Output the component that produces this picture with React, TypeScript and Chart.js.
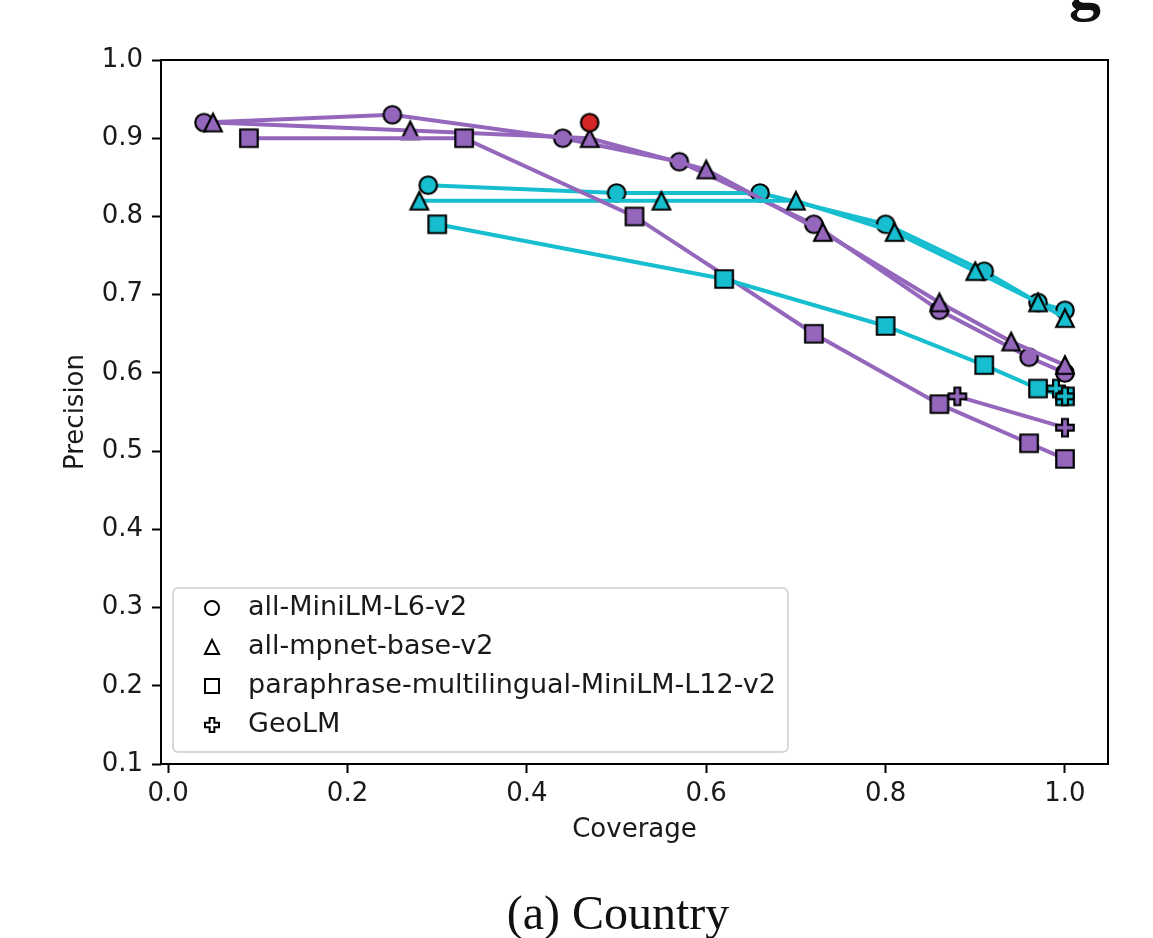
import React, { useEffect, useRef } from 'react';
import { Chart, registerables } from 'chart.js';

Chart.register(...registerables);

// ---------- data ----------
const purpleColor = '#9467bd';
const cyanColor = '#17becf';
const redColor = '#d62728';

// all-MiniLM-L6-v2
const miniPurpleX = [0.04, 0.25, 0.44, 0.57, 0.72, 0.86, 0.96, 1.0];
const miniPurpleY = [0.92, 0.93, 0.90, 0.87, 0.79, 0.68, 0.62, 0.60];
const miniCyanX = [0.29, 0.50, 0.66, 0.80, 0.91, 0.97, 1.0];
const miniCyanY = [0.84, 0.83, 0.83, 0.79, 0.73, 0.69, 0.68];
// all-mpnet-base-v2
const mpnetPurpleX = [0.05, 0.27, 0.47, 0.60, 0.73, 0.86, 0.94, 1.0];
const mpnetPurpleY = [0.92, 0.91, 0.90, 0.86, 0.78, 0.69, 0.64, 0.61];
const mpnetCyanX = [0.28, 0.55, 0.70, 0.81, 0.90, 0.97, 1.0];
const mpnetCyanY = [0.82, 0.82, 0.82, 0.78, 0.73, 0.69, 0.67];
// paraphrase-multilingual-MiniLM-L12-v2
const paraPurpleX = [0.09, 0.33, 0.52, 0.72, 0.86, 0.96, 1.0];
const paraPurpleY = [0.90, 0.90, 0.80, 0.65, 0.56, 0.51, 0.49];
const paraCyanX = [0.30, 0.62, 0.80, 0.91, 0.97, 1.0];
const paraCyanY = [0.79, 0.72, 0.66, 0.61, 0.58, 0.57];
// GeoLM
const geoPurpleX = [0.88, 1.0];
const geoPurpleY = [0.57, 0.53];
const geoCyanX = [0.99, 1.0];
const geoCyanY = [0.58, 0.57];
// highlighted point
const bestX = [0.47];
const bestY = [0.92];

const legendLabels = [
  'all-MiniLM-L6-v2',
  'all-mpnet-base-v2',
  'paraphrase-multilingual-MiniLM-L12-v2',
  'GeoLM',
];
const legendShapes = ['circle', 'triangle', 'square', 'plus'];

const xTicks = [0.0, 0.2, 0.4, 0.6, 0.8, 1.0];
const yTicks = [0.1, 0.2, 0.3, 0.4, 0.5, 0.6, 0.7, 0.8, 0.9, 1.0];
const xAxisTitle = 'Coverage';
const yAxisTitle = 'Precision';
const captionText = '(a) Country';
const topCutText = 'g';

// ---------- styling ----------
const FONT = '"DejaVu Sans", sans-serif';
const FONT_SIZE = 26;
const LEGEND_FONT_SIZE = 27;
const MARKER = 17.5;
const EDGE = 2.2;
const LINE_W = 4;

function tracePath(ctx: CanvasRenderingContext2D, shape: string, cx: number, cy: number, s: number) {
  const h = s / 2;
  ctx.beginPath();
  if (shape === 'circle') {
    ctx.arc(cx, cy, h, 0, Math.PI * 2);
  } else if (shape === 'square') {
    ctx.rect(cx - h, cy - h, s, s);
  } else if (shape === 'triangle') {
    ctx.moveTo(cx, cy - h);
    ctx.lineTo(cx + h, cy + h);
    ctx.lineTo(cx - h, cy + h);
    ctx.closePath();
  } else {
    const a = s / 6;
    const pts = [[-1, -3], [1, -3], [1, -1], [3, -1], [3, 1], [1, 1], [1, 3], [-1, 3], [-1, 1], [-3, 1], [-3, -1], [-1, -1]];
    pts.forEach(([px, py], i) => {
      const X = cx + px * a;
      const Y = cy + py * a;
      if (i === 0) ctx.moveTo(X, Y);
      else ctx.lineTo(X, Y);
    });
    ctx.closePath();
  }
}

function makeMarker(shape: string, fill: string, size: number, edge: number) {
  const W = Math.ceil(size + edge * 2 + 4);
  const c = document.createElement('canvas');
  c.width = W;
  c.height = W;
  const ctx = c.getContext('2d')!;
  tracePath(ctx, shape, W / 2, W / 2, size);
  ctx.fillStyle = fill;
  ctx.fill();
  ctx.lineWidth = edge;
  ctx.strokeStyle = '#000';
  ctx.lineJoin = 'miter';
  ctx.stroke();
  return c;
}

function series(label: string, xs: number[], ys: number[], shape: string, color: string, showLine = true) {
  return {
    label,
    data: xs.map((x, i) => ({ x, y: ys[i] })),
    borderColor: color,
    backgroundColor: color,
    borderWidth: LINE_W,
    pointStyle: makeMarker(shape, color, MARKER, EDGE),
    pointRadius: 10,
    pointHoverRadius: 10,
    showLine,
    fill: false,
    tension: 0,
  };
}

const spinesPlugin = {
  id: 'spines',
  afterDatasetsDraw(chart: any) {
    const { ctx, chartArea: a } = chart;
    ctx.save();
    ctx.strokeStyle = '#000';
    ctx.lineWidth = 2;
    ctx.strokeRect(a.left, a.top, a.right - a.left, a.bottom - a.top);
    ctx.restore();
  },
};

const legendPlugin = {
  id: 'customLegend',
  afterDraw(chart: any) {
    const { ctx, chartArea: a } = chart;
    ctx.save();
    ctx.font = `${LEGEND_FONT_SIZE}px ${FONT}`;
    const maxW = Math.max(...legendLabels.map((t) => ctx.measureText(t).width));
    const bx = a.left + 12;
    const rowGap = 39;
    const bh = rowGap * legendLabels.length + 8;
    const by = a.bottom - 12 - bh;
    const textX = bx + 75;
    const bw = textX - bx + maxW + 12;
    const r = 5;
    ctx.beginPath();
    ctx.moveTo(bx + r, by);
    ctx.lineTo(bx + bw - r, by);
    ctx.arcTo(bx + bw, by, bx + bw, by + r, r);
    ctx.lineTo(bx + bw, by + bh - r);
    ctx.arcTo(bx + bw, by + bh, bx + bw - r, by + bh, r);
    ctx.lineTo(bx + r, by + bh);
    ctx.arcTo(bx, by + bh, bx, by + bh - r, r);
    ctx.lineTo(bx, by + r);
    ctx.arcTo(bx, by, bx + r, by, r);
    ctx.closePath();
    ctx.fillStyle = 'rgba(255,255,255,0.8)';
    ctx.fill();
    ctx.strokeStyle = '#cccccc';
    ctx.lineWidth = 1.5;
    ctx.stroke();

    legendLabels.forEach((label, i) => {
      const cy = by + 20 + i * rowGap;
      tracePath(ctx, legendShapes[i], bx + 39, cy, 14);
      ctx.fillStyle = '#fff';
      ctx.fill();
      ctx.strokeStyle = '#000';
      ctx.lineWidth = 2;
      ctx.stroke();
      ctx.fillStyle = '#1a1a1a';
      ctx.textAlign = 'left';
      ctx.textBaseline = 'middle';
      ctx.fillText(label, textX, cy);
    });
    ctx.restore();
  },
};

const captionPlugin = {
  id: 'caption',
  afterDraw(chart: any) {
    const { ctx } = chart;
    ctx.save();
    ctx.fillStyle = '#111';
    ctx.textAlign = 'center';
    ctx.textBaseline = 'alphabetic';
    ctx.font = '48px "Liberation Serif", serif';
    ctx.fillText(captionText, 618, 929);
    ctx.font = 'bold 64px "Liberation Serif", serif';
    ctx.fillText(topCutText, 1085, 8);
    ctx.restore();
  },
};

export default function App() {
  const ref = useRef<HTMLCanvasElement | null>(null);

  useEffect(() => {
    if (!ref.current) return;
    const datasets = [
      series('all-MiniLM-L6-v2', miniPurpleX, miniPurpleY, 'circle', purpleColor),
      series('all-MiniLM-L6-v2 (b)', miniCyanX, miniCyanY, 'circle', cyanColor),
      series('all-mpnet-base-v2', mpnetPurpleX, mpnetPurpleY, 'triangle', purpleColor),
      series('all-mpnet-base-v2 (b)', mpnetCyanX, mpnetCyanY, 'triangle', cyanColor),
      series('paraphrase-multilingual-MiniLM-L12-v2', paraPurpleX, paraPurpleY, 'square', purpleColor),
      series('paraphrase-multilingual-MiniLM-L12-v2 (b)', paraCyanX, paraCyanY, 'square', cyanColor),
      series('GeoLM', geoPurpleX, geoPurpleY, 'plus', purpleColor),
      series('GeoLM (b)', geoCyanX, geoCyanY, 'plus', cyanColor),
      series('best', bestX, bestY, 'circle', redColor, false),
    ].map((d, i, arr) => ({ ...d, order: arr.length - i }));

    const tickFont = { family: FONT, size: FONT_SIZE };
    const chart = new Chart(ref.current, {
      type: 'scatter',
      data: { datasets: datasets as any },
      plugins: [spinesPlugin, legendPlugin, captionPlugin],
      options: {
        animation: false,
        responsive: false,
        devicePixelRatio: 1,
        layout: { padding: { top: 60, right: 45, bottom: 0, left: 0 } },
        plugins: {
          legend: { display: false },
          tooltip: { enabled: false },
        },
        scales: {
          x: {
            type: 'linear',
            min: -0.008,
            max: 1.048,
            afterBuildTicks: (s: any) => {
              s.ticks = xTicks.map((v) => ({ value: v }));
            },
            afterFit: (s: any) => {
              s.height = 174;
            },
            ticks: {
              callback: (v: any) => Number(v).toFixed(1),
              font: tickFont,
              color: '#1a1a1a',
              padding: 6,
              maxRotation: 0,
              autoSkip: false,
            },
            grid: {
              drawOnChartArea: false,
              drawTicks: true,
              tickLength: 9,
              tickWidth: 2,
              tickColor: '#000',
            },
            border: { display: false },
            title: {
              display: true,
              text: xAxisTitle,
              font: tickFont,
              color: '#1a1a1a',
              padding: { top: 0, bottom: 92 },
            },
          },
          y: {
            type: 'linear',
            min: 0.1,
            max: 1.0,
            afterBuildTicks: (s: any) => {
              s.ticks = yTicks.map((v) => ({ value: v }));
            },
            afterFit: (s: any) => {
              s.width = 161;
            },
            ticks: {
              callback: (v: any) => Number(v).toFixed(1),
              font: tickFont,
              color: '#1a1a1a',
              padding: 9,
              autoSkip: false,
            },
            grid: {
              drawOnChartArea: false,
              drawTicks: true,
              tickLength: 9,
              tickWidth: 2,
              tickColor: '#000',
            },
            border: { display: false },
            title: {
              display: true,
              text: yAxisTitle,
              font: tickFont,
              color: '#1a1a1a',
              padding: { top: 61, bottom: 0 },
            },
          },
        },
      } as any,
    });
    return () => chart.destroy();
  }, []);

  return (
    <div style={{ position: 'fixed', left: 0, top: 0, width: 1153, height: 938, background: '#fff' }}>
      <canvas ref={ref} width={1153} height={938} style={{ display: 'block', width: 1153, height: 938 }} />
    </div>
  );
}
